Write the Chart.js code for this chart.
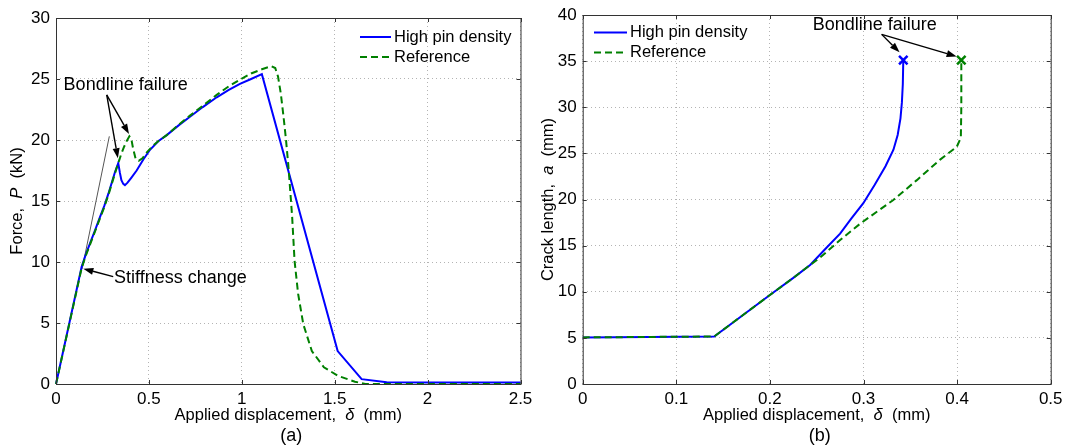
<!DOCTYPE html>
<html>
<head>
<meta charset="utf-8">
<script src="https://cdn.jsdelivr.net/npm/chart.js@4.4.1/dist/chart.umd.min.js"></script>
<style>
html, body { margin: 0; padding: 0; background: #fff; }
#wrap { position: relative; width: 1066px; height: 448px; }
canvas { position: absolute; top: 0; }
</style>
</head>
<body>
<div id="wrap">
  <canvas id="chartA" width="533" height="448" style="left:0"></canvas>
  <canvas id="chartB" width="533" height="448" style="left:533px"></canvas>
</div>
<script>
// (a) force vs applied displacement
var aHighX = [0, 0.138, 0.16, 0.185, 0.21, 0.237, 0.26, 0.282, 0.30, 0.318, 0.335, 0.344, 0.352, 0.362, 0.371, 0.385, 0.405, 0.434, 0.47, 0.506, 0.55, 0.596, 0.66, 0.721, 0.79, 0.865, 0.93, 0.99, 1.05, 1.108, 1.516, 1.645, 1.78, 2.0, 2.5];
var aHighY = [0, 9.6, 10.6, 11.6, 12.6, 13.7, 14.6, 15.6, 16.5, 17.4, 18.1, 17.3, 16.7, 16.4, 16.3, 16.5, 16.9, 17.5, 18.4, 19.2, 19.9, 20.4, 21.2, 21.9, 22.7, 23.5, 24.1, 24.6, 25.0, 25.4, 2.7, 0.4, 0.15, 0.12, 0.12];
var aRefX = [0, 0.138, 0.16, 0.185, 0.21, 0.237, 0.26, 0.282, 0.30, 0.318, 0.335, 0.35, 0.365, 0.38, 0.395, 0.405, 0.415, 0.428, 0.445, 0.465, 0.49, 0.52, 0.55, 0.596, 0.66, 0.721, 0.79, 0.865, 0.93, 0.99, 1.05, 1.108, 1.16, 1.18, 1.195, 1.21, 1.224, 1.238, 1.25, 1.259, 1.271, 1.284, 1.303, 1.331, 1.377, 1.442, 1.516, 1.609, 1.665, 2.5];
var aRefY = [0, 9.5, 10.5, 11.5, 12.5, 13.6, 14.5, 15.5, 16.4, 17.3, 18.1, 18.8, 19.4, 19.9, 20.3, 20.1, 19.3, 18.5, 18.3, 18.5, 19.0, 19.5, 19.9, 20.4, 21.25, 22.0, 22.8, 23.7, 24.4, 24.95, 25.45, 25.8, 26.05, 25.9, 25.2, 23.8, 22.0, 20.0, 18.0, 16.2, 13.7, 10.1, 7.4, 4.9, 2.7, 1.37, 0.68, 0.19, 0, 0];
var aStiffX = [0.14, 0.287];
var aStiffY = [9.4, 20.3];
var aXTicks = ['0', '0.5', '1', '1.5', '2', '2.5'];
var aYTicks = ['0', '5', '10', '15', '20', '25', '30'];

// (b) crack length vs applied displacement
var bHighX = [0, 0.1405, 0.2, 0.225, 0.243, 0.2607, 0.275, 0.2867, 0.2998, 0.312, 0.3235, 0.332, 0.3365, 0.3395, 0.341, 0.342, 0.3425];
var bHighY = [5.05, 5.15, 9.65, 11.5, 12.9, 14.8, 16.3, 17.9, 19.6, 21.6, 23.6, 25.4, 27.0, 28.8, 30.5, 32.5, 35.1];
var bRefX = [0, 0.1405, 0.2, 0.225, 0.243, 0.2535, 0.275, 0.2967, 0.3319, 0.357, 0.3815, 0.3996, 0.404, 0.4045, 0.4045];
var bRefY = [5.05, 5.15, 9.65, 11.5, 12.9, 13.7, 15.6, 17.4, 19.95, 22.1, 24.3, 25.7, 26.7, 30.0, 35.1];
var bXTicks = ['0', '0.1', '0.2', '0.3', '0.4', '0.5'];
var bYTicks = ['0', '5', '10', '15', '20', '25', '30', '35', '40'];

var FONT = '"Liberation Sans", Arial, Helvetica, sans-serif';
var BLUE = '#0000ff';
var GREEN = '#008000';

function pts(xs, ys) {
    return xs.map(function (x, i) { return { x: x, y: ys[i] }; });
}

function drawParts(ctx, parts, cx, cy, size, rot) {
    ctx.save();
    ctx.translate(cx, cy);
    if (rot) ctx.rotate(-Math.PI / 2);
    var w = 0;
    parts.forEach(function (p) {
        ctx.font = (p[1] ? 'italic ' : '') + size + 'px ' + FONT;
        w += ctx.measureText(p[0]).width;
    });
    var x = -w / 2;
    ctx.textBaseline = 'middle';
    ctx.textAlign = 'left';
    ctx.fillStyle = '#000';
    parts.forEach(function (p) {
        ctx.font = (p[1] ? 'italic ' : '') + size + 'px ' + FONT;
        ctx.fillText(p[0], x, 0);
        x += ctx.measureText(p[0]).width;
    });
    ctx.restore();
}

function arrow(ctx, x1, y1, x2, y2) {
    var ang = Math.atan2(y2 - y1, x2 - x1);
    var hl = 10, hw = 3.5;
    var bx = x2 - hl * Math.cos(ang), by = y2 - hl * Math.sin(ang);
    ctx.beginPath();
    ctx.moveTo(x1, y1);
    ctx.lineTo(bx, by);
    ctx.stroke();
    ctx.beginPath();
    ctx.moveTo(x2, y2);
    ctx.lineTo(bx + hw * Math.sin(ang), by - hw * Math.cos(ang));
    ctx.lineTo(bx - hw * Math.sin(ang), by + hw * Math.cos(ang));
    ctx.closePath();
    ctx.fill();
}

// box, inward ticks, titles, legend and annotations in MATLAB style
function makeDecor(cfg) {
    return {
        id: 'decor',
        afterDraw: function (chart) {
            var ctx = chart.ctx, a = chart.chartArea;
            var sx = chart.scales.x, sy = chart.scales.y;
            ctx.save();
            ctx.strokeStyle = '#333';
            ctx.lineWidth = 1;
            ctx.strokeRect(a.left + 0.5, a.top + 0.5, a.right - a.left, a.bottom - a.top);
            ctx.beginPath();
            sx.ticks.forEach(function (t) {
                var px = Math.round(sx.getPixelForValue(t.value)) + 0.5;
                ctx.moveTo(px, a.bottom); ctx.lineTo(px, a.bottom - 4);
                ctx.moveTo(px, a.top); ctx.lineTo(px, a.top + 4);
            });
            sy.ticks.forEach(function (t) {
                var py = Math.round(sy.getPixelForValue(t.value)) + 0.5;
                ctx.moveTo(a.left, py); ctx.lineTo(a.left + 4, py);
                ctx.moveTo(a.right, py); ctx.lineTo(a.right - 4, py);
            });
            ctx.stroke();

            var cx = (a.left + a.right) / 2, cy = (a.top + a.bottom) / 2;
            drawParts(ctx, cfg.xTitle, cx, 415, 16.5, false);
            drawParts(ctx, cfg.yTitle, cfg.yTitleX, cy, 16.5, true);
            drawParts(ctx, [[cfg.panel, 0]], cx + 3, 436, 18, false);

            // legend
            var lg = cfg.legend;
            chart.data.datasets.forEach(function (ds) {
                if (ds.legendRow === undefined) return;
                var y = lg.rows[ds.legendRow];
                ctx.save();
                ctx.strokeStyle = ds.borderColor;
                ctx.lineWidth = 2;
                ctx.setLineDash(ds.borderDash || []);
                ctx.beginPath();
                ctx.moveTo(lg.x1, y); ctx.lineTo(lg.x2, y);
                ctx.stroke();
                ctx.restore();
                ctx.fillStyle = '#000';
                ctx.font = '16.5px ' + FONT;
                ctx.textAlign = 'left';
                ctx.textBaseline = 'middle';
                ctx.fillText(ds.label, lg.x2 + 3, y);
            });

            // annotations
            ctx.fillStyle = '#000';
            ctx.strokeStyle = '#000';
            ctx.lineWidth = 1.4;
            ctx.font = '18px ' + FONT;
            ctx.textBaseline = 'middle';
            cfg.notes.forEach(function (n) {
                ctx.textAlign = n.align;
                ctx.fillText(n.text, sx.getPixelForValue(n.x), sy.getPixelForValue(n.y));
            });
            cfg.arrows.forEach(function (r) {
                arrow(ctx, sx.getPixelForValue(r[0]), sy.getPixelForValue(r[1]),
                    sx.getPixelForValue(r[2]), sy.getPixelForValue(r[3]));
            });
            ctx.restore();
        }
    };
}

function scaleOpts(min, max, step, labels, fit, horiz) {
    return {
        type: 'linear',
        min: min,
        max: max,
        afterFit: function (s) {
            // let layout.padding alone decide the plot box
            if (horiz) { s.height = fit; s.paddingLeft = 0; s.paddingRight = 0; }
            else { s.width = fit; s.paddingTop = 0; s.paddingBottom = 0; }
        },
        ticks: {
            stepSize: step,
            autoSkip: false,
            maxRotation: 0,
            padding: horiz ? 5 : 6,
            color: '#000',
            font: { family: FONT, size: 17 },
            callback: function (v, i) { return labels[i]; }
        },
        grid: { color: '#b4b4b4', lineWidth: 1, drawTicks: false, borderDash: [1, 3] },
        border: { display: false, dash: [1, 3] }
    };
}

function baseOptions(pad, xs, ys) {
    return {
        responsive: false,
        animation: false,
        events: [],
        layout: { padding: pad },
        plugins: { legend: { display: false }, tooltip: { enabled: false } },
        scales: { x: xs, y: ys }
    };
}

document.addEventListener('DOMContentLoaded', function () {
    var ctxA = document.getElementById('chartA').getContext('2d');
    new Chart(ctxA, {
        type: 'line',
        data: {
            datasets: [{
                label: 'High pin density',
                data: pts(aHighX, aHighY),
                borderColor: BLUE,
                borderWidth: 2,
                pointRadius: 0,
                tension: 0,
                clip: false,
                order: 1,
                legendRow: 0
            }, {
                label: 'Reference',
                data: pts(aRefX, aRefY),
                borderColor: GREEN,
                borderWidth: 2,
                borderDash: [7, 4],
                pointRadius: 0,
                tension: 0,
                clip: false,
                order: 0,
                legendRow: 1
            }, {
                label: 'Initial stiffness',
                data: pts(aStiffX, aStiffY),
                borderColor: '#555',
                borderWidth: 1,
                pointRadius: 0,
                order: 2
            }]
        },
        options: baseOptions({ left: 0, right: 12.5, top: 18, bottom: 0 },
            scaleOpts(0, 2.5, 0.5, aXTicks, 64, true),
            scaleOpts(0, 30, 5, aYTicks, 56, false)),
        plugins: [makeDecor({
            xTitle: [['Applied displacement,  ', 0], ['\u03b4', 1], ['  (mm)', 0]],
            yTitle: [['Force,  ', 0], ['P', 1], ['  (kN)', 0]],
            yTitleX: 17,
            panel: '(a)',
            legend: { x1: 360, x2: 391, rows: [37, 57] },
            notes: [
                { text: 'Bondline failure', x: 0.041, y: 24.5, align: 'left' },
                { text: 'Stiffness change', x: 0.312, y: 8.66, align: 'left' }
            ],
            arrows: [
                [0.273, 23.7, 0.333, 18.5],
                [0.273, 23.7, 0.393, 20.5],
                [0.308, 8.8, 0.147, 9.45]
            ]
        })]
    });

    var ctxB = document.getElementById('chartB').getContext('2d');
    var lastPoint = function (c) { return c.dataIndex === c.dataset.data.length - 1 ? 6 : 0; };
    new Chart(ctxB, {
        type: 'line',
        data: {
            datasets: [{
                label: 'High pin density',
                data: pts(bHighX, bHighY),
                borderColor: BLUE,
                borderWidth: 2,
                pointRadius: lastPoint,
                pointStyle: 'crossRot',
                pointBorderColor: BLUE,
                pointBorderWidth: 2.5,
                tension: 0,
                clip: false,
                order: 1,
                legendRow: 0
            }, {
                label: 'Reference',
                data: pts(bRefX, bRefY),
                borderColor: GREEN,
                borderWidth: 2,
                borderDash: [7, 4],
                pointRadius: lastPoint,
                pointStyle: 'crossRot',
                pointBorderColor: GREEN,
                pointBorderWidth: 2.5,
                tension: 0,
                clip: false,
                order: 0,
                legendRow: 1
            }]
        },
        options: baseOptions({ left: 0, right: 15.3, top: 15, bottom: 0 },
            scaleOpts(0, 0.5, 0.1, bXTicks, 64, true),
            scaleOpts(0, 40, 5, bYTicks, 49.7, false)),
        plugins: [makeDecor({
            xTitle: [['Applied displacement,  ', 0], ['\u03b4', 1], ['  (mm)', 0]],
            yTitle: [['Crack length,  ', 0], ['a', 1], ['  (mm)', 0]],
            yTitleX: 15,
            panel: '(b)',
            legend: { x1: 61, x2: 94, rows: [32.5, 52.5] },
            notes: [
                { text: 'Bondline failure', x: 0.312, y: 38.9, align: 'center' }
            ],
            arrows: [
                [0.3194, 37.9, 0.3385, 35.95],
                [0.3194, 37.9, 0.3995, 35.5]
            ]
        })]
    });
});
</script>
</body>
</html>
